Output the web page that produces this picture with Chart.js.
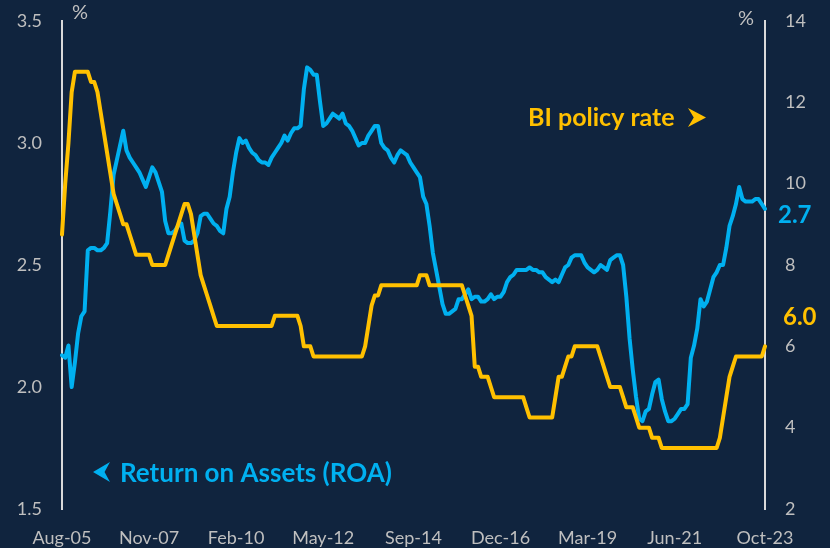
<!DOCTYPE html>
<html>
<head>
<meta charset="utf-8">
<script src="https://cdn.jsdelivr.net/npm/chart.js@4.4.1/dist/chart.umd.min.js"></script>
<style>
    html, body { margin: 0; padding: 0; background: #10243e; }
    #wrap { width: 830px; height: 548px; }
</style>
</head>
<body>
<div id="wrap"><canvas id="chart" width="830" height="548"></canvas></div>
<script>
// -----------------------------
// Data (monthly, Aug-05 .. Oct-23)
// -----------------------------
const roa = [
    2.13, 2.12, 2.17, 2.00, 2.10,
    2.22, 2.29, 2.31, 2.56, 2.57, 2.57, 2.56, 2.56, 2.57, 2.59, 2.72, 2.87,
    2.93, 2.99, 3.05, 2.97, 2.94, 2.92, 2.90, 2.88, 2.85, 2.82, 2.86, 2.90,
    2.88, 2.84, 2.80, 2.68, 2.63, 2.63, 2.64, 2.66, 2.67, 2.60, 2.59, 2.59,
    2.60, 2.63, 2.70, 2.71, 2.71, 2.69, 2.67, 2.66, 2.64, 2.63, 2.73, 2.78,
    2.88, 2.96, 3.02, 3.00, 3.01, 2.98, 2.96, 2.95, 2.93, 2.92, 2.92, 2.91,
    2.94, 2.96, 2.98, 3.00, 3.03, 3.01, 3.04, 3.06, 3.06, 3.07, 3.22, 3.31,
    3.30, 3.28, 3.28, 3.17, 3.07, 3.08, 3.10, 3.12, 3.11, 3.10, 3.12, 3.08,
    3.07, 3.05, 3.02, 2.99, 3.00, 3.00, 3.03, 3.05, 3.07, 3.07, 3.00, 2.98,
    2.97, 2.94, 2.92, 2.95, 2.97, 2.96, 2.95, 2.92, 2.90, 2.88, 2.86, 2.78,
    2.75, 2.66, 2.55, 2.48, 2.41, 2.34, 2.30, 2.30, 2.31, 2.32, 2.36, 2.36,
    2.38, 2.40, 2.36, 2.37, 2.37, 2.35, 2.35, 2.36, 2.38, 2.36, 2.37, 2.37,
    2.39, 2.43, 2.45, 2.46, 2.48, 2.48, 2.48, 2.48, 2.49, 2.48, 2.48, 2.47,
    2.47, 2.45, 2.44, 2.43, 2.44, 2.43, 2.46, 2.49, 2.50, 2.53, 2.54, 2.54,
    2.54, 2.51, 2.49, 2.48, 2.47, 2.48, 2.50, 2.49, 2.48, 2.52, 2.53, 2.54,
    2.54, 2.50, 2.37, 2.20, 2.07, 1.96, 1.87, 1.86, 1.90, 1.91, 1.97, 2.02,
    2.03, 1.95, 1.90, 1.86, 1.86, 1.87, 1.89, 1.91, 1.91, 1.93, 2.12, 2.17,
    2.24, 2.36, 2.33, 2.35, 2.40, 2.45, 2.47, 2.50, 2.50, 2.57, 2.66, 2.70,
    2.75, 2.82, 2.77, 2.76, 2.76, 2.76, 2.77, 2.77, 2.75, 2.73
];

const biRate = [
    8.75, 10.0, 11.0, 12.25, 12.75,
    12.75, 12.75, 12.75, 12.75, 12.5, 12.5, 12.25, 11.75, 11.25, 10.75, 10.25, 9.75,
    9.5, 9.25, 9.0, 9.0, 8.75, 8.5, 8.25, 8.25, 8.25, 8.25, 8.25, 8.0,
    8.0, 8.0, 8.0, 8.0, 8.25, 8.5, 8.75, 9.0, 9.25, 9.5, 9.5, 9.25,
    8.75, 8.25, 7.75, 7.5, 7.25, 7.0, 6.75, 6.5, 6.5, 6.5, 6.5, 6.5,
    6.5, 6.5, 6.5, 6.5, 6.5, 6.5, 6.5, 6.5, 6.5, 6.5, 6.5, 6.5,
    6.5, 6.75, 6.75, 6.75, 6.75, 6.75, 6.75, 6.75, 6.75, 6.5, 6.0, 6.0,
    6.0, 5.75, 5.75, 5.75, 5.75, 5.75, 5.75, 5.75, 5.75, 5.75, 5.75, 5.75,
    5.75, 5.75, 5.75, 5.75, 5.75, 6.0, 6.5, 7.0, 7.25, 7.25, 7.5, 7.5,
    7.5, 7.5, 7.5, 7.5, 7.5, 7.5, 7.5, 7.5, 7.5, 7.5, 7.75, 7.75,
    7.75, 7.5, 7.5, 7.5, 7.5, 7.5, 7.5, 7.5, 7.5, 7.5, 7.5, 7.5,
    7.25, 7.0, 6.75, 5.5, 5.5, 5.25, 5.25, 5.25, 5.0, 4.75, 4.75, 4.75,
    4.75, 4.75, 4.75, 4.75, 4.75, 4.75, 4.75, 4.5, 4.25, 4.25, 4.25, 4.25,
    4.25, 4.25, 4.25, 4.25, 4.75, 5.25, 5.25, 5.5, 5.75, 5.75, 6.0, 6.0,
    6.0, 6.0, 6.0, 6.0, 6.0, 6.0, 5.75, 5.5, 5.25, 5.0, 5.0, 5.0,
    5.0, 4.75, 4.5, 4.5, 4.5, 4.25, 4.0, 4.0, 4.0, 4.0, 3.75, 3.75,
    3.75, 3.5, 3.5, 3.5, 3.5, 3.5, 3.5, 3.5, 3.5, 3.5, 3.5, 3.5,
    3.5, 3.5, 3.5, 3.5, 3.5, 3.5, 3.5, 3.75, 4.25, 4.75, 5.25, 5.5,
    5.75, 5.75, 5.75, 5.75, 5.75, 5.75, 5.75, 5.75, 5.75, 6.0
];

const xTickLabels = ["Aug-05", "Nov-07", "Feb-10", "May-12", "Sep-14", "Dec-16", "Mar-19", "Jun-21", "Oct-23"];
const roaTicks = [1.5, 2.0, 2.5, 3.0, 3.5];
const rateTicks = [2, 4, 6, 8, 10, 12, 14];

// month labels, starting Aug 2005
const monthNames = ["Jan", "Feb", "Mar", "Apr", "May", "Jun", "Jul", "Aug", "Sep", "Oct", "Nov", "Dec"];
const months = roa.map((v, i) => {
    const m = 7 + i;
    const y = 2005 + Math.floor(m / 12);
    return monthNames[m % 12] + "-" + String(y).slice(2);
});

// -----------------------------
// Colours / fonts
// -----------------------------
const BG = "#10243e";
const BLUE = "#00b0f0";
const GOLD = "#ffc000";
const TICK = "#bfbfbf";
const FONT = "Lato, 'Open Sans', sans-serif";

// -----------------------------
// Background + annotations
// -----------------------------
const background = {
    id: "background",
    beforeDraw(chart) {
        const ctx = chart.ctx;
        ctx.save();
        ctx.fillStyle = BG;
        ctx.fillRect(0, 0, chart.width, chart.height);
        ctx.restore();
    }
};

function arrowHead(ctx, tipX, tipY, w, h, dir) {
    ctx.beginPath();
    ctx.moveTo(tipX, tipY);
    ctx.lineTo(tipX - dir * w, tipY - h / 2);
    ctx.lineTo(tipX - dir * w * 0.68, tipY);
    ctx.lineTo(tipX - dir * w, tipY + h / 2);
    ctx.closePath();
    ctx.fill();
}

const annotations = {
    id: "annotations",
    afterDraw(chart) {
        const { ctx, chartArea, scales } = chart;
        ctx.save();

        // unit labels
        ctx.font = "20px " + FONT;
        ctx.fillStyle = TICK;
        ctx.textAlign = "center";
        ctx.textBaseline = "middle";
        ctx.fillText("%", chartArea.left + 18, 13);
        ctx.fillText("%", chartArea.right - 19, 19);

        // series names
        ctx.textAlign = "left";
        ctx.font = "bold 25px " + FONT;
        ctx.fillStyle = GOLD;
        ctx.fillText("BI policy rate", 528, 118);
        arrowHead(ctx, 706, 117.5, 18, 19, 1);

        ctx.font = "bold 26px " + FONT;
        ctx.fillStyle = BLUE;
        ctx.fillText("Return on Assets (ROA)", 120, 474);
        arrowHead(ctx, 93, 472, 17, 20, -1);

        // end values
        const last = roa.length - 1;
        ctx.font = "bold 24px " + FONT;
        ctx.fillStyle = BLUE;
        ctx.fillText(roa[last].toFixed(1), chartArea.right + 13, scales.y.getPixelForValue(roa[last]) + 6);
        ctx.fillStyle = GOLD;
        ctx.fillText(biRate[last].toFixed(1), chartArea.right + 18, scales.y2.getPixelForValue(biRate[last]) - 29);

        ctx.restore();
    }
};

// vertical axes: fixed width, no extra label padding at the ends
function fitSide(width) {
    return function (scale) {
        scale.width = width;
        scale.paddingTop = 0;
        scale.paddingBottom = 0;
    };
}

// -----------------------------
// Chart
// -----------------------------
new Chart(document.getElementById("chart"), {
    type: "line",
    data: {
        labels: months,
        datasets: [
            {
                label: "BI policy rate",
                data: biRate,
                yAxisID: "y2",
                borderColor: GOLD,
                borderWidth: 4,
                pointRadius: 0,
                tension: 0,
                borderJoinStyle: "round",
                borderCapStyle: "round"
            },
            {
                label: "Return on Assets (ROA)",
                data: roa,
                yAxisID: "y",
                borderColor: BLUE,
                borderWidth: 4,
                pointRadius: 0,
                tension: 0,
                borderJoinStyle: "round",
                borderCapStyle: "round"
            }
        ]
    },
    options: {
        responsive: false,
        animation: false,
        layout: { padding: { top: 21, left: 0, right: 0, bottom: 0 } },
        plugins: {
            legend: { display: false },
            tooltip: { enabled: false }
        },
        scales: {
            x: {
                offset: false,
                grid: { display: false, drawTicks: false },
                border: { display: false },
                afterFit(scale) { scale.height = 39; },
                ticks: {
                    autoSkip: false,
                    maxRotation: 0,
                    minRotation: 0,
                    padding: 18,
                    color: TICK,
                    font: { family: FONT, size: 18 },
                    callback(val) {
                        const l = this.getLabelForValue(val);
                        return xTickLabels.includes(l) ? l : "";
                    }
                }
            },
            y: {
                position: "left",
                min: 1.5,
                max: 3.5,
                afterFit: fitSide(62),
                afterBuildTicks(scale) { scale.ticks = roaTicks.map(v => ({ value: v })); },
                grid: { display: false, drawTicks: false },
                border: { display: true, color: "#d9d9d9", width: 2 },
                ticks: {
                    padding: 20,
                    color: TICK,
                    font: { family: FONT, size: 18 },
                    callback: v => v.toFixed(1)
                }
            },
            y2: {
                position: "right",
                min: 2,
                max: 14,
                afterFit: fitSide(65),
                afterBuildTicks(scale) { scale.ticks = rateTicks.map(v => ({ value: v })); },
                grid: { display: false, drawTicks: false },
                border: { display: true, color: "#d9d9d9", width: 2 },
                ticks: {
                    padding: 20,
                    color: TICK,
                    font: { family: FONT, size: 18 },
                    callback: v => String(v)
                }
            }
        }
    },
    plugins: [background, annotations]
});
</script>
</body>
</html>
